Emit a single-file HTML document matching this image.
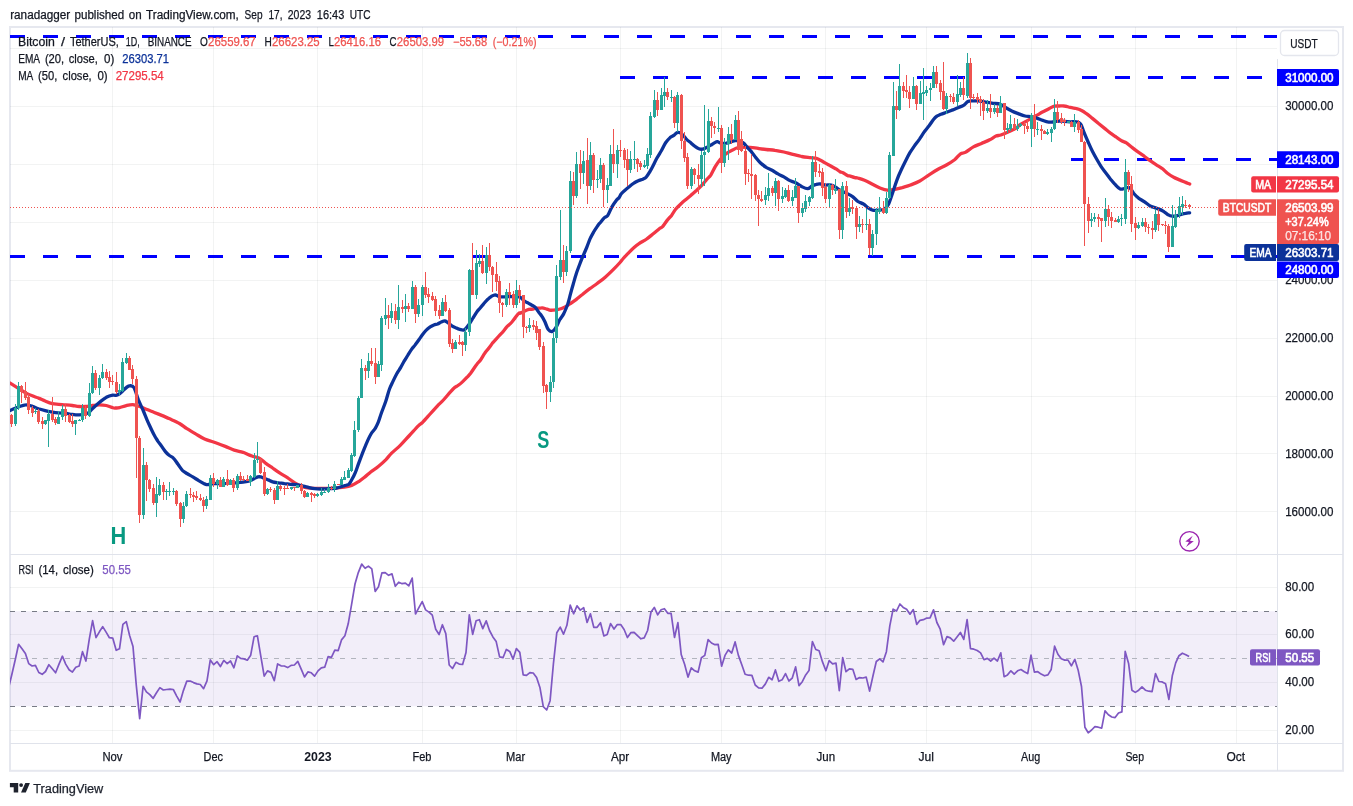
<!DOCTYPE html>
<html><head><meta charset="utf-8"><title>BTCUSDT chart</title><style>html,body{margin:0;padding:0;background:#fff}svg{display:block}</style></head><body>
<svg width="1353" height="806" viewBox="0 0 1353 806" font-family='"Liberation Sans", Arial, sans-serif'>
<rect width="1353" height="806" fill="#fff"/>
<text x="10.2" y="19.0" font-size="12" fill="#131722" font-weight="normal" stroke="#131722" stroke-width="0.25" textLength="60.0" lengthAdjust="spacingAndGlyphs">ranadagger</text>
<text x="74.5" y="19.0" font-size="12" fill="#131722" font-weight="normal" stroke="#131722" stroke-width="0.25" textLength="49.7" lengthAdjust="spacingAndGlyphs">published</text>
<text x="128.8" y="19.0" font-size="12" fill="#131722" font-weight="normal" stroke="#131722" stroke-width="0.25" textLength="12.9" lengthAdjust="spacingAndGlyphs">on</text>
<text x="146.0" y="19.0" font-size="12" fill="#131722" font-weight="normal" stroke="#131722" stroke-width="0.25" textLength="92.9" lengthAdjust="spacingAndGlyphs">TradingView.com,</text>
<text x="244.6" y="19.0" font-size="12" fill="#131722" font-weight="normal" stroke="#131722" stroke-width="0.25" textLength="17.9" lengthAdjust="spacingAndGlyphs">Sep</text>
<text x="268.5" y="19.0" font-size="12" fill="#131722" font-weight="normal" stroke="#131722" stroke-width="0.25" textLength="14.0" lengthAdjust="spacingAndGlyphs">17,</text>
<text x="287.8" y="19.0" font-size="12" fill="#131722" font-weight="normal" stroke="#131722" stroke-width="0.25" textLength="23.3" lengthAdjust="spacingAndGlyphs">2023</text>
<text x="316.8" y="19.0" font-size="12" fill="#131722" font-weight="normal" stroke="#131722" stroke-width="0.25" textLength="27.5" lengthAdjust="spacingAndGlyphs">16:43</text>
<text x="349.7" y="19.0" font-size="12" fill="#131722" font-weight="normal" stroke="#131722" stroke-width="0.25" textLength="20.8" lengthAdjust="spacingAndGlyphs">UTC</text>
<defs><clipPath id="cm"><rect x="10" y="27" width="1267" height="527"/></clipPath><clipPath id="cr"><rect x="10" y="555" width="1267" height="188"/></clipPath></defs>
<rect x="10" y="27" width="1333" height="743.8" fill="none" stroke="#e6e8ef" stroke-width="2"/>
<path d="M112.5 27V743 M213.5 27V743 M317.5 27V743 M422.5 27V743 M516.5 27V743 M620.5 27V743 M721.5 27V743 M825.5 27V743 M926.5 27V743 M1031.5 27V743 M1135.5 27V743 M1236.5 27V743" stroke="#2a2e39" stroke-opacity="0.06" stroke-width="1" fill="none"/>
<path d="M10 511.5H1277 M10 453.5H1277 M10 396.5H1277 M10 338.5H1277 M10 280.5H1277 M10 222.5H1277 M10 164.5H1277 M10 106.5H1277 M10 48.5H1277 M10 730.5H1277 M10 682.5H1277 M10 634.5H1277 M10 587.5H1277" stroke="#2a2e39" stroke-opacity="0.06" stroke-width="1" fill="none"/>
<rect x="10" y="611.2" width="1267" height="95.1" fill="#7e57c2" fill-opacity="0.1"/>
<path d="M10 611.5H1277" stroke="#787b86" stroke-width="1" stroke-dasharray="5 6" fill="none"/>
<path d="M10 706.5H1277" stroke="#787b86" stroke-width="1" stroke-dasharray="5 6" fill="none"/>
<path d="M10 658.5H1277" stroke="#b2b5be" stroke-width="1" stroke-dasharray="5 6" fill="none"/>
<g clip-path="url(#cm)">
<path d="M10 36.5H1277" stroke="#0000ff" stroke-width="3" stroke-dasharray="15 18" fill="none"/>
<path d="M620 77.4H1277" stroke="#0000ff" stroke-width="3" stroke-dasharray="15 18" fill="none"/>
<path d="M1071 159.6H1277" stroke="#0000ff" stroke-width="3" stroke-dasharray="15 18" fill="none"/>
<path d="M10 256.4H1277" stroke="#0000ff" stroke-width="3" stroke-dasharray="15 18" fill="none"/>
<path d="M6.0 380.7C7.0 381.3 9.6 382.9 11.7 384.2C13.8 385.5 16.1 386.9 18.4 388.4C20.7 389.8 23.3 391.6 25.6 392.9C27.9 394.1 30.1 395.0 32.3 395.8C34.4 396.7 36.4 397.2 38.5 398.1C40.6 398.9 42.9 400.1 45.2 401.0C47.5 402.0 50.2 403.2 52.4 403.7C54.6 404.3 56.5 404.1 58.6 404.3C60.8 404.5 63.0 404.6 65.3 404.8C67.6 405.0 70.0 405.2 72.3 405.5C74.6 405.8 77.0 406.4 79.2 406.5C81.4 406.7 83.2 406.7 85.4 406.5C87.6 406.4 90.3 405.8 92.6 405.5C94.9 405.2 97.0 404.8 99.3 404.8C101.6 404.8 104.1 405.0 106.3 405.5C108.5 406.0 111.1 407.3 112.7 407.7C114.3 408.2 114.8 408.0 115.9 408.0C117.0 408.0 117.7 408.1 119.5 407.7C121.2 407.3 124.1 406.1 126.3 405.6C128.6 405.1 130.6 404.6 132.8 404.7C135.0 404.9 137.2 405.7 139.6 406.5C142.0 407.3 144.6 408.5 147.0 409.5C149.4 410.5 151.9 411.4 154.3 412.4C156.8 413.4 159.2 414.4 161.7 415.4C164.2 416.4 166.1 417.3 169.1 418.6C172.1 420.0 176.5 421.8 179.5 423.5C182.5 425.2 184.2 427.0 186.9 428.7C189.6 430.4 192.8 432.1 195.7 433.9C198.6 435.6 201.6 437.7 204.6 439.0C207.6 440.4 210.1 440.8 213.5 442.0C216.9 443.2 221.9 445.1 225.3 446.4C228.8 447.8 231.2 449.1 234.2 450.1C237.1 451.1 240.1 451.4 243.0 452.3C245.9 453.3 249.2 455.1 251.9 456.0C254.6 457.0 257.1 457.1 259.3 458.3C261.5 459.4 263.0 461.2 265.2 462.9C267.4 464.5 270.1 466.3 272.6 468.0C275.1 469.8 277.5 471.6 280.0 473.2C282.5 474.8 284.9 476.0 287.4 477.6C289.9 479.3 292.3 481.3 294.8 482.8C297.3 484.3 300.0 485.7 302.2 486.5C304.4 487.4 305.6 487.6 307.8 487.9C309.9 488.2 311.2 488.3 314.8 488.4C318.4 488.5 324.7 488.6 329.6 488.4C334.5 488.2 340.6 487.7 344.3 487.2C348.0 486.7 349.2 486.4 351.7 485.4C354.2 484.5 356.9 482.7 359.1 481.3C361.3 479.9 363.0 478.5 365.0 476.9C367.0 475.3 368.8 473.4 371.0 471.7C373.2 470.0 375.9 468.5 378.3 466.5C380.8 464.5 383.5 462.1 385.7 459.9C387.9 457.6 389.1 455.7 391.6 453.2C394.1 450.8 397.5 448.0 400.5 445.1C403.5 442.1 406.4 438.7 409.4 435.5C412.4 432.3 416.1 428.1 418.3 425.9C420.5 423.7 420.7 424.1 422.7 422.2C424.7 420.2 427.6 416.8 430.1 414.0C432.6 411.3 435.3 408.3 437.5 405.9C439.7 403.6 440.8 402.8 443.4 400.0C446.0 397.2 450.6 391.4 453.1 389.0C455.6 386.5 456.7 386.5 458.3 385.3C459.9 384.1 461.2 383.0 462.7 381.6C464.2 380.2 465.8 378.6 467.1 377.2C468.5 375.7 469.2 375.1 470.8 373.0C472.4 370.8 475.1 366.6 476.7 364.5C478.3 362.3 479.0 362.1 480.4 360.2C481.8 358.3 483.4 355.1 484.9 353.0C486.3 350.9 488.0 349.3 489.3 347.6C490.6 345.9 491.4 344.6 492.9 342.6C494.5 340.7 497.3 337.8 498.9 336.0C500.5 334.2 501.2 333.6 502.6 332.1C504.0 330.5 505.5 328.2 507.0 326.6C508.5 325.0 510.2 323.9 511.5 322.5C512.9 321.0 513.9 319.4 515.1 317.9C516.3 316.3 517.9 313.9 518.8 313.2C519.7 312.4 519.4 313.5 520.3 313.2C521.2 312.8 522.9 311.9 524.3 311.3C525.7 310.6 527.2 309.8 528.7 309.4C530.1 309.1 531.8 309.4 532.9 309.2C533.9 309.0 533.8 308.3 535.0 308.1C536.3 308.0 538.9 308.2 540.1 308.2C541.3 308.2 541.1 307.8 542.2 307.9C543.4 308.1 545.8 308.8 547.0 309.1C548.2 309.5 548.6 309.9 549.6 310.1C550.6 310.3 551.5 310.3 552.9 310.2C554.3 310.1 556.3 310.0 558.2 309.5C560.2 309.0 562.6 308.2 564.6 307.2C566.6 306.3 568.6 304.9 570.5 303.5C572.5 302.2 574.5 300.9 576.4 299.4C578.4 297.8 580.1 296.2 582.4 294.5C584.6 292.7 587.3 290.5 589.8 288.7C592.2 286.9 594.6 285.4 597.1 283.5C599.7 281.6 602.7 279.5 605.2 277.2C607.8 275.0 610.2 272.7 612.7 270.2C615.1 267.8 618.4 264.3 620.0 262.5C621.7 260.6 621.5 260.4 622.8 259.0C624.0 257.6 625.8 255.7 627.5 253.9C629.3 252.1 631.5 249.7 633.5 248.0C635.4 246.2 637.3 244.8 639.4 243.4C641.5 242.0 643.8 241.0 646.0 239.5C648.2 238.0 650.4 236.1 652.6 234.3C654.9 232.5 657.7 230.1 659.3 228.8C661.0 227.5 661.4 228.0 662.7 226.5C664.1 225.0 666.0 221.7 667.5 219.9C668.9 218.0 670.2 217.2 671.6 215.4C673.0 213.6 674.0 211.2 675.6 209.2C677.2 207.2 680.0 204.7 681.5 203.3C683.0 201.8 683.4 201.6 684.9 200.3C686.4 199.0 688.8 197.1 690.8 195.4C692.8 193.8 694.7 192.1 696.7 190.3C698.7 188.4 700.9 186.2 702.6 184.3C704.3 182.5 705.6 180.7 707.0 179.2C708.4 177.6 709.4 177.1 710.8 175.1C712.1 173.0 713.7 169.4 715.1 166.9C716.6 164.5 718.0 162.3 719.6 160.3C721.2 158.2 723.1 156.2 724.8 154.7C726.5 153.2 728.5 152.2 730.0 151.3C731.4 150.5 732.5 150.0 733.6 149.5C734.7 148.9 735.6 148.3 736.6 148.0C737.6 147.7 738.6 147.8 739.6 147.7C740.6 147.6 740.8 147.4 742.5 147.3C744.2 147.2 747.2 147.1 749.9 147.3C752.6 147.5 756.1 148.1 758.8 148.5C761.5 148.9 763.5 149.2 766.2 149.5C768.9 149.8 772.0 149.8 775.0 150.3C778.0 150.7 780.9 151.3 783.9 152.0C786.9 152.7 789.8 153.7 792.8 154.4C795.8 155.1 798.6 155.9 801.6 156.5C804.6 157.0 808.0 157.3 810.5 157.6C813.0 158.0 814.4 157.8 816.4 158.4C818.4 159.0 820.3 160.3 822.3 161.3C824.3 162.4 826.1 163.5 828.3 164.7C830.5 166.0 833.6 167.6 835.6 168.7C837.6 169.9 838.8 171.0 840.0 171.7C841.2 172.4 841.8 172.1 843.0 172.7C844.2 173.3 846.2 174.8 847.4 175.4C848.6 176.0 849.2 175.8 850.4 176.1C851.6 176.5 853.6 177.3 854.8 177.6C856.0 177.9 856.2 177.6 857.8 178.0C859.4 178.5 862.0 179.2 864.5 180.2C866.9 181.2 870.0 183.0 872.5 184.3C875.1 185.6 877.5 187.0 880.0 188.0C882.4 188.9 884.9 189.9 887.3 190.2C889.8 190.4 892.3 189.9 894.8 189.4C897.2 189.0 899.5 188.3 902.2 187.6C904.8 186.8 907.6 186.1 910.5 185.0C913.4 183.9 916.8 182.7 919.8 181.0C922.8 179.4 925.7 177.0 928.7 175.1C931.7 173.2 934.7 171.2 937.6 169.5C940.5 167.8 943.6 166.7 946.4 165.0C949.2 163.4 952.2 161.5 954.6 159.7C956.9 157.8 958.7 155.0 960.5 153.8C962.3 152.6 963.1 153.6 965.3 152.4C967.4 151.3 970.7 148.4 973.4 146.9C976.1 145.4 978.8 144.6 981.5 143.4C984.3 142.2 987.3 141.1 989.7 139.8C992.1 138.6 994.2 136.9 996.0 136.1C997.8 135.3 998.7 135.7 1000.8 135.0C1002.8 134.3 1006.0 132.9 1008.1 131.9C1010.3 131.0 1012.0 130.4 1013.7 129.4C1015.4 128.5 1017.5 127.0 1018.5 126.2C1019.5 125.4 1018.8 125.5 1020.0 124.7C1021.2 124.0 1023.5 122.9 1025.4 121.8C1027.4 120.6 1029.6 119.2 1031.7 118.1C1033.7 116.9 1035.6 116.0 1037.6 114.9C1039.5 113.8 1041.5 112.6 1043.5 111.6C1045.5 110.5 1047.6 109.3 1049.4 108.4C1051.2 107.5 1052.9 106.6 1054.5 106.2C1056.2 105.8 1057.6 106.1 1059.2 106.0C1060.8 106.0 1062.5 105.7 1064.3 106.0C1066.1 106.2 1068.3 107.0 1070.3 107.4C1072.3 107.9 1074.5 108.1 1076.2 108.5C1077.9 108.9 1078.9 109.1 1080.6 110.0C1082.3 110.8 1084.5 112.2 1086.5 113.7C1088.5 115.1 1090.4 116.8 1092.4 118.4C1094.4 120.0 1096.3 121.6 1098.3 123.3C1100.3 124.9 1102.3 126.5 1104.3 128.1C1106.3 129.7 1108.2 131.4 1110.2 132.9C1112.2 134.3 1114.1 135.7 1116.1 137.0C1118.1 138.4 1120.3 140.0 1122.0 141.0C1123.7 142.0 1124.7 141.8 1126.4 142.9C1128.1 144.0 1130.3 146.1 1132.3 147.6C1134.3 149.2 1136.3 150.7 1138.3 152.1C1140.3 153.5 1142.2 154.8 1144.2 156.2C1146.2 157.7 1148.1 159.3 1150.1 160.7C1152.1 162.1 1154.0 163.4 1156.0 164.6C1158.0 165.9 1159.9 166.9 1161.9 168.3C1163.9 169.8 1165.8 172.0 1167.8 173.5C1169.8 175.0 1171.7 176.2 1173.7 177.2C1175.7 178.3 1177.6 179.0 1179.6 179.9C1181.6 180.7 1183.9 181.7 1185.6 182.4C1187.3 183.1 1189.0 183.7 1189.7 184.0" stroke="#f23645" stroke-width="3.3" fill="none" stroke-linecap="round" stroke-linejoin="round"/>
<path d="M6.0 412.0C7.0 411.6 9.6 410.5 11.7 409.7C13.8 408.8 16.1 407.8 18.4 407.0C20.7 406.2 23.3 404.9 25.6 404.8C27.9 404.6 30.1 405.6 32.3 406.2C34.4 406.9 36.4 408.0 38.5 408.8C40.6 409.5 42.9 410.1 45.2 410.7C47.5 411.3 50.2 411.8 52.4 412.2C54.6 412.6 56.5 412.8 58.6 412.9C60.8 413.1 63.0 413.0 65.3 413.2C67.6 413.5 70.0 414.2 72.3 414.4C74.6 414.7 77.0 415.0 79.2 414.9C81.4 414.8 83.8 414.4 85.4 414.0C87.1 413.5 87.9 413.1 89.1 412.2C90.3 411.3 90.9 410.1 92.6 408.5C94.3 406.9 97.0 404.4 99.3 402.5C101.6 400.7 104.1 398.6 106.3 397.3C108.5 396.1 111.1 395.4 112.7 395.1C114.3 394.8 114.8 395.7 115.9 395.4C117.0 395.2 118.3 394.5 119.5 393.8C120.6 393.0 121.6 392.0 122.7 391.0C123.8 390.0 125.2 388.5 126.3 387.6C127.5 386.8 128.2 385.8 129.5 385.8C130.8 385.8 132.5 385.2 133.9 387.5C135.4 389.9 136.9 396.0 138.4 399.9C140.0 403.8 142.0 407.6 143.4 411.0C144.8 414.3 145.8 417.0 147.0 419.8C148.2 422.7 149.5 425.4 150.7 428.0C151.9 430.5 153.1 433.1 154.3 435.3C155.5 437.6 156.8 439.4 158.0 441.3C159.2 443.1 160.5 444.7 161.7 446.4C162.9 448.2 164.2 450.1 165.4 451.6C166.6 453.1 167.7 454.2 169.1 455.3C170.5 456.4 172.1 456.7 173.6 458.3C175.1 459.8 176.5 462.3 178.0 464.3C179.5 466.3 180.9 468.7 182.4 470.3C183.9 471.8 185.2 472.4 186.9 473.5C188.6 474.6 190.8 475.7 192.8 476.9C194.8 478.1 196.7 479.4 198.7 480.6C200.7 481.8 203.1 483.2 204.6 483.9C206.1 484.5 206.1 484.8 207.6 484.7C209.1 484.7 211.3 483.8 213.5 483.6C215.7 483.4 218.4 483.6 220.9 483.6C223.4 483.5 225.9 483.4 228.3 483.3C230.8 483.1 233.2 483.0 235.6 482.8C238.0 482.6 240.5 482.5 243.0 482.1C245.5 481.7 248.5 481.2 250.4 480.6C252.3 480.0 253.2 479.0 254.4 478.4C255.6 477.8 256.7 477.2 257.8 476.9C258.9 476.7 259.7 476.7 260.8 476.9C261.9 477.2 263.3 477.9 264.5 478.4C265.7 478.9 266.8 479.3 268.2 479.9C269.6 480.4 270.9 481.3 272.6 481.8C274.3 482.3 276.5 482.5 278.5 482.8C280.5 483.1 282.4 483.3 284.4 483.6C286.4 483.8 288.3 484.1 290.3 484.3C292.3 484.5 294.3 484.5 296.3 484.7C298.3 485.0 300.3 485.4 302.2 485.8C304.1 486.2 305.6 486.8 307.8 487.2C309.9 487.7 312.4 488.4 314.8 488.7C317.2 489.0 319.7 489.0 322.2 489.0C324.7 489.0 327.1 488.9 329.6 488.7C332.1 488.5 334.6 488.4 337.0 488.0C339.4 487.5 342.3 486.4 344.3 485.7C346.3 485.1 347.6 485.2 348.8 484.3C350.0 483.3 350.6 481.8 351.7 479.8C352.8 477.9 354.2 475.4 355.4 472.4C356.6 469.5 357.7 465.8 359.1 462.1C360.5 458.4 362.1 454.0 363.6 450.3C365.1 446.6 366.8 442.6 368.0 439.9C369.2 437.2 369.8 436.0 371.0 434.0C372.2 432.0 374.2 430.1 375.4 428.1C376.6 426.1 377.3 424.6 378.3 422.2C379.3 419.7 380.1 416.8 381.3 413.3C382.5 409.9 384.3 405.5 385.7 401.5C387.1 397.4 388.2 392.4 389.5 389.0C390.8 385.6 392.0 383.5 393.2 380.9C394.4 378.3 395.7 375.7 396.9 373.5C398.1 371.3 399.4 369.7 400.6 367.6C401.8 365.5 403.1 363.0 404.3 360.9C405.5 358.8 406.8 357.0 408.0 355.0C409.2 353.0 410.5 350.8 411.7 349.1C412.9 347.4 414.2 346.3 415.4 344.6C416.6 343.0 417.9 341.2 419.1 339.5C420.3 337.8 421.6 335.9 422.8 334.3C424.0 332.7 425.3 331.1 426.5 329.9C427.7 328.6 429.0 327.7 430.2 326.9C431.4 326.1 432.7 325.5 433.9 325.0C435.1 324.5 436.4 324.4 437.6 324.0C438.8 323.5 440.1 322.5 441.3 322.0C442.5 321.5 443.8 320.8 445.0 321.0C446.2 321.2 447.4 322.4 448.6 323.2C449.8 324.1 451.1 325.4 452.3 326.2C453.5 327.0 454.8 327.4 456.0 327.9C457.2 328.5 458.3 329.1 459.7 329.4C461.1 329.7 462.9 330.6 464.5 329.7C466.1 328.8 467.9 325.9 469.3 324.0C470.7 322.0 471.8 320.0 473.0 318.0C474.2 316.1 475.5 313.9 476.7 312.1C477.9 310.4 479.2 309.2 480.4 307.7C481.6 306.2 482.9 304.7 484.1 303.3C485.3 301.9 486.6 300.4 487.8 299.3C489.0 298.1 490.3 297.1 491.5 296.3C492.7 295.6 494.0 294.8 495.2 294.8C496.4 294.9 497.7 296.3 498.9 296.6C500.1 297.0 500.8 296.9 502.6 296.9C504.5 296.9 507.5 296.7 510.0 296.6C512.5 296.6 515.6 296.5 517.4 296.6C519.2 296.7 519.3 296.7 520.5 297.5C521.8 298.2 523.5 300.4 524.8 301.3C526.1 302.3 527.0 302.4 528.3 303.1C529.7 303.9 531.7 305.0 532.9 305.7C534.1 306.4 534.4 306.2 535.3 307.3C536.3 308.4 537.8 310.9 538.8 312.3C539.8 313.8 540.5 314.2 541.5 315.8C542.6 317.3 543.8 319.4 544.9 321.7C546.0 324.0 547.0 327.9 548.3 329.6C549.5 331.2 551.0 331.9 552.4 331.4C553.8 330.9 555.3 328.5 556.5 326.6C557.7 324.7 558.5 322.0 559.7 319.8C560.9 317.7 562.4 316.2 563.8 313.6C565.1 310.9 566.7 307.1 567.8 304.0C568.9 300.8 569.4 297.9 570.3 294.6C571.2 291.3 572.2 287.7 573.2 284.3C574.2 280.8 574.9 277.8 576.2 273.9C577.5 270.0 579.8 264.1 581.0 260.9C582.2 257.7 582.5 257.1 583.5 254.9C584.5 252.7 585.6 250.1 586.7 247.5C587.8 244.9 588.8 241.7 589.9 239.1C591.1 236.5 592.5 234.1 593.8 231.8C595.1 229.5 596.8 227.1 597.9 225.5C599.0 223.9 599.6 223.4 600.6 222.2C601.6 220.9 603.0 219.1 604.2 217.9C605.4 216.8 606.6 217.0 607.9 215.2C609.1 213.3 610.4 209.6 611.8 207.1C613.3 204.6 615.4 201.7 616.6 200.1C617.8 198.5 618.2 198.8 619.0 197.7C619.7 196.7 620.3 195.1 621.3 193.8C622.3 192.6 623.6 191.4 625.0 190.2C626.4 189.0 628.0 187.7 629.5 186.5C630.9 185.3 632.4 184.1 633.9 183.2C635.3 182.2 636.8 181.5 638.3 180.8C639.8 180.1 641.5 179.8 642.8 179.2C644.0 178.6 644.9 178.4 646.0 177.3C647.2 176.1 648.4 174.1 649.4 172.4C650.4 170.7 651.1 169.6 652.3 167.2C653.5 164.9 655.3 161.1 656.8 158.3C658.3 155.6 659.7 153.5 661.2 151.0C662.7 148.4 664.1 145.0 665.6 142.8C667.1 140.6 668.7 138.9 670.1 137.6C671.5 136.4 672.6 136.3 673.8 135.4C675.0 134.6 676.1 132.7 677.5 132.5C678.9 132.2 680.4 132.8 681.9 134.0C683.4 135.1 684.8 137.6 686.3 139.1C687.8 140.6 689.3 141.6 690.8 142.8C692.3 144.1 693.9 145.5 695.2 146.5C696.6 147.5 697.7 148.3 698.9 148.7C700.1 149.2 701.2 149.4 702.6 149.2C704.0 148.9 705.6 147.9 707.0 147.3C708.4 146.6 709.5 146.0 710.8 145.2C712.0 144.4 713.7 143.2 714.8 142.6C715.9 142.0 716.4 141.6 717.4 141.7C718.4 141.8 719.6 143.0 721.0 143.2C722.5 143.5 724.6 143.4 726.3 143.2C728.0 142.9 730.0 142.2 731.5 141.7C732.9 141.3 733.9 140.8 735.1 140.7C736.3 140.5 737.5 140.4 738.9 140.8C740.2 141.1 741.9 141.8 743.3 142.9C744.7 143.9 745.6 145.5 747.0 147.0C748.4 148.5 749.9 150.0 751.4 151.7C752.9 153.5 754.3 155.8 755.8 157.6C757.3 159.5 758.6 161.2 760.3 162.8C762.0 164.4 764.2 166.0 766.2 167.3C768.2 168.5 770.1 169.1 772.1 170.2C774.1 171.3 776.0 172.8 778.0 173.9C780.0 175.0 781.9 175.8 783.9 176.9C785.9 178.0 787.8 179.6 789.8 180.6C791.8 181.5 793.7 181.8 795.7 182.8C797.7 183.8 799.6 185.5 801.6 186.5C803.6 187.5 805.9 188.8 807.6 188.7C809.3 188.6 810.5 186.8 812.0 186.0C813.5 185.3 814.9 184.6 816.4 184.3C817.9 183.9 819.4 183.8 820.9 184.0C822.4 184.1 823.6 184.8 825.3 185.0C827.0 185.2 829.5 184.6 831.2 185.0C832.9 185.4 834.1 186.4 835.6 187.2C837.1 188.1 838.4 189.2 840.1 190.2C841.8 191.2 844.0 192.1 846.0 193.1C848.0 194.1 849.9 194.7 851.9 196.1C853.9 197.4 855.8 199.9 857.8 201.3C859.8 202.6 862.0 203.1 863.7 204.2C865.4 205.3 866.7 206.9 868.2 207.9C869.7 208.9 870.9 209.8 872.6 210.1C874.3 210.5 876.5 210.3 878.5 210.1C880.5 210.0 882.7 210.1 884.4 209.1C886.1 208.1 887.1 206.9 888.5 204.2C889.8 201.6 891.1 197.2 892.5 193.1C893.9 189.1 895.5 183.8 897.0 179.8C898.4 175.9 899.9 172.7 901.4 169.5C902.9 166.3 904.4 163.3 905.8 160.5C907.2 157.7 908.5 155.1 909.9 152.7C911.4 150.3 912.7 148.4 914.3 146.1C915.9 143.9 917.7 141.6 919.5 139.1C921.2 136.6 923.0 133.6 924.7 131.3C926.3 129.1 927.6 127.8 929.1 125.8C930.6 123.8 932.2 121.1 933.5 119.5C934.8 117.9 935.7 117.0 936.9 116.1C938.1 115.3 939.4 115.0 940.9 114.3C942.4 113.7 944.3 113.1 946.0 112.5C947.8 111.9 949.8 111.1 951.2 110.5C952.7 109.9 953.4 109.7 954.6 109.2C955.8 108.7 957.1 108.2 958.6 107.5C960.2 106.8 962.3 106.1 963.9 105.1C965.4 104.1 966.5 102.3 967.9 101.6C969.3 100.9 970.6 101.0 972.3 100.9C974.0 100.8 976.1 100.7 978.3 100.9C980.5 101.1 983.1 101.7 985.6 102.1C988.1 102.5 990.5 102.9 993.0 103.3C995.5 103.6 998.2 103.5 1000.4 104.3C1002.6 105.1 1004.3 106.8 1006.3 108.0C1008.3 109.2 1010.3 110.3 1012.3 111.2C1014.3 112.2 1016.1 112.8 1018.2 113.6C1020.3 114.4 1022.9 115.5 1025.0 116.0C1027.1 116.5 1028.9 116.2 1030.9 116.6C1032.9 116.9 1034.8 117.4 1036.8 118.1C1038.8 118.7 1040.8 119.8 1042.8 120.4C1044.7 121.1 1046.8 121.9 1048.7 122.1C1050.5 122.4 1052.0 122.1 1053.8 121.9C1055.6 121.7 1057.5 121.1 1059.2 121.0C1061.0 120.9 1062.5 121.2 1064.3 121.3C1066.1 121.5 1068.3 121.7 1070.3 121.8C1072.3 121.9 1074.5 121.4 1076.2 121.8C1077.9 122.2 1079.4 122.4 1080.6 124.0C1081.8 125.6 1082.4 128.4 1083.6 131.4C1084.8 134.3 1086.5 138.4 1088.0 141.7C1089.5 145.1 1090.9 148.4 1092.4 151.3C1093.9 154.3 1095.4 156.9 1096.9 159.5C1098.4 162.1 1099.8 164.6 1101.3 166.9C1102.8 169.1 1104.2 170.8 1105.7 172.8C1107.2 174.7 1108.7 176.8 1110.2 178.7C1111.7 180.5 1112.9 182.1 1114.6 183.9C1116.3 185.6 1118.4 188.3 1120.2 189.0C1121.9 189.8 1123.5 188.5 1125.0 188.3C1126.5 188.1 1127.9 186.7 1129.4 187.6C1130.9 188.4 1132.3 191.7 1133.8 193.5C1135.3 195.2 1136.6 196.6 1138.3 197.9C1140.0 199.3 1142.2 200.2 1144.2 201.6C1146.2 203.0 1148.4 205.0 1150.1 206.0C1151.8 207.0 1153.1 207.1 1154.6 207.6C1156.1 208.2 1157.5 208.5 1159.0 209.1C1160.5 209.7 1162.0 210.4 1163.5 211.3C1165.0 212.3 1166.4 213.9 1167.9 214.7C1169.4 215.6 1170.8 216.1 1172.3 216.2C1173.8 216.4 1175.3 216.1 1176.8 215.8C1178.3 215.5 1179.7 214.7 1181.2 214.3C1182.7 213.9 1184.2 213.5 1185.6 213.3C1187.0 213.0 1188.9 212.9 1189.6 212.8" stroke="#0c3299" stroke-width="3.3" fill="none" stroke-linecap="round" stroke-linejoin="round"/>
<path d="M15 404h1v22h-1zM18 382h1v28h-1zM35 408h1v6h-1zM45 420h1v5h-1zM48 410h1v37h-1zM58 411h1v13h-1zM62 405h1v15h-1zM75 420h1v15h-1zM79 419h1v2h-1zM82 404h1v18h-1zM89 383h1v34h-1zM92 366h1v28h-1zM99 375h1v20h-1zM102 364h1v15h-1zM119 384h1v11h-1zM122 358h1v34h-1zM126 353h1v11h-1zM143 448h1v71h-1zM156 477h1v40h-1zM159 479h1v17h-1zM166 489h1v11h-1zM169 482h1v14h-1zM173 488h1v7h-1zM183 502h1v21h-1zM186 491h1v16h-1zM206 496h1v13h-1zM210 475h1v25h-1zM217 479h1v10h-1zM223 477h1v10h-1zM230 479h1v6h-1zM237 474h1v16h-1zM250 475h1v11h-1zM254 453h1v25h-1zM257 442h1v21h-1zM267 488h1v7h-1zM277 481h1v19h-1zM291 487h1v3h-1zM297 485h1v3h-1zM307 492h1v5h-1zM317 493h1v4h-1zM321 488h1v8h-1zM324 489h1v4h-1zM328 484h1v9h-1zM334 481h1v11h-1zM341 477h1v8h-1zM344 471h1v9h-1zM348 468h1v10h-1zM351 453h1v19h-1zM354 421h1v36h-1zM358 396h1v36h-1zM361 359h1v39h-1zM368 353h1v25h-1zM378 361h1v16h-1zM381 316h1v55h-1zM385 298h1v27h-1zM391 303h1v20h-1zM398 285h1v44h-1zM405 294h1v28h-1zM412 281h1v28h-1zM418 299h1v18h-1zM422 285h1v31h-1zM442 298h1v18h-1zM455 340h1v9h-1zM465 328h1v23h-1zM469 269h1v67h-1zM476 250h1v49h-1zM479 254h1v13h-1zM486 247h1v37h-1zM506 289h1v18h-1zM516 280h1v28h-1zM529 318h1v14h-1zM550 376h1v26h-1zM553 333h1v55h-1zM556 265h1v78h-1zM560 210h1v70h-1zM566 246h1v30h-1zM570 171h1v82h-1zM576 152h1v46h-1zM583 151h1v33h-1zM590 142h1v48h-1zM597 170h1v18h-1zM600 158h1v25h-1zM607 178h1v25h-1zM610 145h1v41h-1zM617 145h1v33h-1zM630 151h1v22h-1zM634 141h1v28h-1zM644 160h1v8h-1zM647 148h1v21h-1zM650 112h1v46h-1zM654 90h1v28h-1zM661 88h1v22h-1zM664 77h1v30h-1zM671 90h1v12h-1zM677 92h1v40h-1zM691 167h1v22h-1zM701 151h1v36h-1zM704 105h1v81h-1zM708 109h1v44h-1zM718 107h1v25h-1zM724 138h1v29h-1zM728 127h1v33h-1zM735 115h1v25h-1zM765 187h1v18h-1zM768 173h1v28h-1zM775 178h1v28h-1zM782 187h1v16h-1zM785 188h1v10h-1zM792 190h1v16h-1zM795 178h1v20h-1zM802 203h1v14h-1zM805 195h1v17h-1zM809 196h1v10h-1zM812 156h1v43h-1zM829 183h1v24h-1zM835 179h1v15h-1zM842 182h1v57h-1zM849 198h1v18h-1zM859 216h1v16h-1zM866 209h1v21h-1zM872 230h1v26h-1zM876 208h1v37h-1zM879 197h1v17h-1zM886 192h1v22h-1zM889 152h1v47h-1zM893 82h1v74h-1zM899 64h1v47h-1zM913 77h1v22h-1zM920 81h1v23h-1zM923 68h1v52h-1zM926 86h1v10h-1zM930 83h1v18h-1zM933 66h1v22h-1zM946 93h1v21h-1zM957 75h1v31h-1zM960 82h1v15h-1zM967 53h1v45h-1zM987 100h1v13h-1zM994 104h1v10h-1zM1000 96h1v17h-1zM1007 123h1v10h-1zM1010 115h1v16h-1zM1017 119h1v12h-1zM1020 123h1v4h-1zM1031 113h1v34h-1zM1037 122h1v13h-1zM1047 129h1v6h-1zM1051 127h1v15h-1zM1054 99h1v31h-1zM1068 121h1v2h-1zM1074 114h1v18h-1zM1091 213h1v14h-1zM1094 213h1v9h-1zM1105 198h1v29h-1zM1118 216h1v7h-1zM1121 214h1v12h-1zM1125 159h1v65h-1zM1138 222h1v7h-1zM1142 218h1v9h-1zM1155 209h1v23h-1zM1172 205h1v42h-1zM1175 210h1v18h-1zM1179 197h1v21h-1zM1182 196h1v19h-1zM14 408h3v16h-3zM17 386h3v22h-3zM34 411h3v1h-3zM44 420h3v4h-3zM47 414h3v7h-3zM57 417h3v7h-3zM61 409h3v8h-3zM74 420h3v4h-3zM78 420h3v1h-3zM81 408h3v12h-3zM88 393h3v23h-3zM91 373h3v20h-3zM98 378h3v10h-3zM101 372h3v6h-3zM118 390h3v2h-3zM121 362h3v29h-3zM125 358h3v5h-3zM142 465h3v50h-3zM155 494h3v9h-3zM158 485h3v10h-3zM165 491h3v1h-3zM168 491h3v1h-3zM172 491h3v1h-3zM182 506h3v13h-3zM185 494h3v12h-3zM205 499h3v7h-3zM209 478h3v22h-3zM216 480h3v4h-3zM222 479h3v8h-3zM229 480h3v5h-3zM236 476h3v12h-3zM249 476h3v6h-3zM253 460h3v17h-3zM256 459h3v1h-3zM266 489h3v5h-3zM276 486h3v14h-3zM290 487h3v2h-3zM296 485h3v3h-3zM306 493h3v4h-3zM316 494h3v2h-3zM320 492h3v3h-3zM323 492h3v1h-3zM327 488h3v4h-3zM333 484h3v5h-3zM340 479h3v6h-3zM343 477h3v3h-3zM347 470h3v8h-3zM350 455h3v16h-3zM353 430h3v26h-3zM357 398h3v32h-3zM360 368h3v30h-3zM367 361h3v10h-3zM377 364h3v13h-3zM380 318h3v47h-3zM384 315h3v4h-3zM390 311h3v7h-3zM397 307h3v13h-3zM404 306h3v3h-3zM411 287h3v22h-3zM417 305h3v9h-3zM421 287h3v18h-3zM441 302h3v14h-3zM454 342h3v7h-3zM464 332h3v13h-3zM468 270h3v62h-3zM475 263h3v32h-3zM478 261h3v3h-3zM485 255h3v18h-3zM505 292h3v13h-3zM515 290h3v15h-3zM528 325h3v3h-3zM549 382h3v10h-3zM552 338h3v44h-3zM555 276h3v62h-3zM559 260h3v17h-3zM565 251h3v21h-3zM569 181h3v70h-3zM575 164h3v32h-3zM582 161h3v12h-3zM589 155h3v31h-3zM596 179h3v1h-3zM599 165h3v14h-3zM606 185h3v5h-3zM609 154h3v32h-3zM616 150h3v14h-3zM629 159h3v11h-3zM633 159h3v1h-3zM643 165h3v2h-3zM646 154h3v12h-3zM649 116h3v39h-3zM653 100h3v17h-3zM660 95h3v15h-3zM663 92h3v4h-3zM670 97h3v1h-3zM676 95h3v28h-3zM690 169h3v17h-3zM700 155h3v24h-3zM703 152h3v3h-3zM707 121h3v31h-3zM717 128h3v1h-3zM723 144h3v19h-3zM727 134h3v10h-3zM734 120h3v20h-3zM764 195h3v5h-3zM767 188h3v8h-3zM774 181h3v12h-3zM781 196h3v3h-3zM784 190h3v7h-3zM791 197h3v4h-3zM794 186h3v12h-3zM801 208h3v5h-3zM804 201h3v8h-3zM808 197h3v5h-3zM811 162h3v36h-3zM828 185h3v14h-3zM834 189h3v2h-3zM841 186h3v44h-3zM848 208h3v4h-3zM858 224h3v3h-3zM865 224h3v1h-3zM871 234h3v14h-3zM875 210h3v24h-3zM878 209h3v3h-3zM885 198h3v15h-3zM888 155h3v43h-3zM892 106h3v50h-3zM898 86h3v24h-3zM912 86h3v13h-3zM919 93h3v11h-3zM922 92h3v2h-3zM925 90h3v3h-3zM929 88h3v2h-3zM932 72h3v16h-3zM945 96h3v13h-3zM956 94h3v8h-3zM959 88h3v7h-3zM966 63h3v33h-3zM986 108h3v3h-3zM993 108h3v4h-3zM999 103h3v10h-3zM1006 128h3v2h-3zM1009 124h3v5h-3zM1016 126h3v3h-3zM1019 124h3v2h-3zM1030 115h3v14h-3zM1036 129h3v1h-3zM1046 132h3v2h-3zM1050 129h3v4h-3zM1053 112h3v17h-3zM1067 121h3v2h-3zM1073 122h3v5h-3zM1090 219h3v2h-3zM1093 217h3v2h-3zM1104 209h3v12h-3zM1117 219h3v3h-3zM1120 218h3v1h-3zM1124 172h3v47h-3zM1137 225h3v3h-3zM1141 222h3v4h-3zM1154 214h3v16h-3zM1171 226h3v21h-3zM1174 215h3v12h-3zM1178 206h3v9h-3zM1181 204h3v3h-3z" fill="#26a69a"/>
<path d="M11 414h1v13h-1zM21 385h1v18h-1zM25 382h1v18h-1zM28 394h1v20h-1zM32 406h1v11h-1zM38 409h1v15h-1zM42 417h1v12h-1zM52 397h1v25h-1zM55 417h1v8h-1zM65 404h1v18h-1zM69 414h1v9h-1zM72 414h1v13h-1zM85 406h1v13h-1zM95 370h1v20h-1zM106 369h1v11h-1zM109 371h1v17h-1zM112 375h1v10h-1zM116 372h1v22h-1zM129 356h1v14h-1zM132 365h1v19h-1zM136 376h1v102h-1zM139 436h1v87h-1zM146 462h1v39h-1zM149 479h1v13h-1zM153 484h1v21h-1zM163 482h1v18h-1zM176 490h1v16h-1zM180 502h1v25h-1zM190 488h1v10h-1zM193 492h1v10h-1zM196 491h1v9h-1zM200 494h1v7h-1zM203 497h1v15h-1zM213 473h1v14h-1zM220 477h1v10h-1zM227 470h1v16h-1zM233 478h1v14h-1zM240 472h1v9h-1zM243 476h1v5h-1zM247 475h1v6h-1zM260 458h1v16h-1zM264 467h1v29h-1zM270 487h1v5h-1zM274 488h1v16h-1zM280 485h1v6h-1zM284 486h1v9h-1zM287 484h1v5h-1zM294 487h1v4h-1zM301 483h1v11h-1zM304 490h1v8h-1zM311 492h1v10h-1zM314 493h1v5h-1zM331 486h1v4h-1zM338 484h1v1h-1zM365 365h1v15h-1zM371 348h1v18h-1zM375 348h1v36h-1zM388 305h1v24h-1zM395 304h1v20h-1zM402 300h1v13h-1zM408 303h1v9h-1zM415 285h1v38h-1zM425 272h1v26h-1zM428 288h1v15h-1zM432 292h1v9h-1zM435 296h1v20h-1zM439 305h1v14h-1zM445 295h1v17h-1zM449 308h1v39h-1zM452 339h1v14h-1zM459 335h1v10h-1zM462 341h1v15h-1zM472 243h1v52h-1zM482 245h1v29h-1zM489 243h1v28h-1zM492 266h1v26h-1zM496 262h1v29h-1zM499 276h1v37h-1zM502 302h1v15h-1zM509 283h1v22h-1zM513 291h1v17h-1zM519 285h1v18h-1zM523 295h1v43h-1zM526 326h1v7h-1zM533 320h1v10h-1zM536 321h1v19h-1zM539 329h1v21h-1zM543 342h1v51h-1zM546 384h1v25h-1zM563 245h1v38h-1zM573 172h1v33h-1zM580 150h1v39h-1zM587 138h1v66h-1zM593 153h1v40h-1zM603 163h1v44h-1zM613 129h1v44h-1zM620 140h1v17h-1zM624 148h1v20h-1zM627 149h1v37h-1zM637 158h1v14h-1zM640 161h1v9h-1zM657 92h1v24h-1zM667 88h1v12h-1zM674 96h1v32h-1zM681 94h1v55h-1zM684 132h1v30h-1zM687 153h1v36h-1zM694 168h1v16h-1zM698 164h1v30h-1zM711 117h1v21h-1zM714 122h1v12h-1zM721 125h1v48h-1zM731 124h1v20h-1zM738 111h1v44h-1zM741 131h1v21h-1zM745 146h1v39h-1zM748 169h1v13h-1zM751 154h1v45h-1zM755 174h1v27h-1zM758 190h1v36h-1zM761 191h1v11h-1zM772 186h1v10h-1zM778 180h1v31h-1zM788 185h1v17h-1zM798 186h1v37h-1zM815 151h1v26h-1zM819 164h1v13h-1zM822 168h1v28h-1zM825 183h1v20h-1zM832 184h1v11h-1zM839 189h1v50h-1zM846 181h1v37h-1zM852 200h1v14h-1zM856 206h1v33h-1zM862 219h1v14h-1zM869 219h1v36h-1zM883 201h1v13h-1zM896 91h1v28h-1zM903 82h1v16h-1zM906 75h1v23h-1zM909 86h1v22h-1zM916 85h1v25h-1zM936 66h1v22h-1zM940 80h1v20h-1zM943 62h1v48h-1zM950 94h1v8h-1zM953 93h1v11h-1zM963 77h1v23h-1zM970 58h1v51h-1zM973 94h1v6h-1zM977 93h1v11h-1zM980 96h1v20h-1zM983 99h1v21h-1zM990 94h1v24h-1zM997 105h1v12h-1zM1004 103h1v36h-1zM1014 118h1v13h-1zM1024 122h1v12h-1zM1027 120h1v12h-1zM1034 104h1v33h-1zM1041 125h1v15h-1zM1044 130h1v4h-1zM1057 101h1v22h-1zM1061 113h1v11h-1zM1064 118h1v8h-1zM1071 121h1v6h-1zM1078 120h1v13h-1zM1081 125h1v17h-1zM1084 141h1v105h-1zM1088 197h1v36h-1zM1098 214h1v13h-1zM1101 218h1v24h-1zM1108 205h1v21h-1zM1111 212h1v16h-1zM1115 218h1v4h-1zM1128 170h1v22h-1zM1131 176h1v56h-1zM1135 217h1v23h-1zM1145 218h1v14h-1zM1148 224h1v10h-1zM1152 221h1v18h-1zM1158 209h1v22h-1zM1162 224h1v2h-1zM1165 221h1v13h-1zM1168 224h1v28h-1zM1185 200h1v8h-1zM1189 204h1v5h-1zM10 415h3v9h-3zM20 386h3v6h-3zM24 391h3v7h-3zM27 397h3v13h-3zM31 408h3v5h-3zM37 411h3v11h-3zM41 421h3v3h-3zM51 414h3v6h-3zM54 419h3v4h-3zM64 409h3v7h-3zM68 415h3v7h-3zM71 421h3v3h-3zM84 408h3v8h-3zM94 373h3v15h-3zM105 372h3v6h-3zM108 377h3v5h-3zM111 381h3v1h-3zM115 382h3v10h-3zM128 358h3v12h-3zM131 369h3v10h-3zM135 379h3v59h-3zM138 438h3v77h-3zM145 465h3v15h-3zM148 480h3v9h-3zM152 488h3v15h-3zM162 485h3v7h-3zM175 491h3v13h-3zM179 503h3v16h-3zM189 494h3v1h-3zM192 495h3v2h-3zM195 496h3v2h-3zM199 498h3v2h-3zM202 500h3v6h-3zM212 478h3v6h-3zM219 480h3v7h-3zM226 479h3v6h-3zM232 480h3v8h-3zM239 476h3v4h-3zM242 479h3v1h-3zM246 479h3v2h-3zM259 459h3v14h-3zM263 472h3v22h-3zM269 489h3v1h-3zM273 490h3v10h-3zM279 486h3v3h-3zM283 488h3v1h-3zM286 488h3v1h-3zM293 487h3v1h-3zM300 485h3v6h-3zM303 491h3v6h-3zM310 493h3v2h-3zM313 494h3v2h-3zM330 488h3v1h-3zM337 484h3v1h-3zM364 368h3v3h-3zM370 361h3v3h-3zM374 363h3v14h-3zM387 315h3v3h-3zM394 311h3v9h-3zM401 307h3v2h-3zM407 306h3v3h-3zM414 287h3v27h-3zM424 287h3v8h-3zM427 294h3v3h-3zM431 296h3v4h-3zM434 299h3v12h-3zM438 310h3v6h-3zM444 302h3v9h-3zM448 310h3v34h-3zM451 343h3v6h-3zM458 342h3v2h-3zM461 342h3v3h-3zM471 270h3v25h-3zM481 261h3v12h-3zM488 255h3v12h-3zM491 267h3v8h-3zM495 274h3v8h-3zM498 281h3v22h-3zM501 303h3v2h-3zM508 292h3v3h-3zM512 294h3v11h-3zM518 290h3v6h-3zM522 295h3v32h-3zM525 327h3v1h-3zM532 325h3v2h-3zM535 326h3v7h-3zM538 329h3v18h-3zM542 346h3v40h-3zM545 385h3v7h-3zM562 260h3v12h-3zM572 181h3v15h-3zM579 164h3v9h-3zM586 160h3v26h-3zM592 155h3v25h-3zM602 165h3v25h-3zM612 154h3v10h-3zM619 150h3v1h-3zM623 150h3v10h-3zM626 159h3v11h-3zM636 159h3v5h-3zM639 163h3v4h-3zM656 100h3v10h-3zM666 92h3v5h-3zM673 97h3v26h-3zM680 95h3v46h-3zM683 141h3v17h-3zM686 157h3v29h-3zM693 169h3v6h-3zM697 175h3v4h-3zM710 121h3v5h-3zM713 126h3v2h-3zM720 128h3v35h-3zM730 134h3v6h-3zM737 120h3v30h-3zM740 139h3v12h-3zM744 151h3v23h-3zM747 173h3v1h-3zM750 174h3v2h-3zM754 175h3v20h-3zM757 195h3v4h-3zM760 199h3v2h-3zM771 188h3v5h-3zM777 181h3v18h-3zM787 190h3v11h-3zM797 186h3v27h-3zM814 162h3v10h-3zM818 171h3v2h-3zM821 172h3v16h-3zM824 187h3v12h-3zM831 185h3v5h-3zM838 189h3v41h-3zM845 186h3v26h-3zM851 207h3v2h-3zM855 208h3v19h-3zM861 224h3v1h-3zM868 224h3v24h-3zM882 208h3v5h-3zM895 106h3v4h-3zM902 86h3v5h-3zM905 90h3v2h-3zM908 92h3v7h-3zM915 86h3v18h-3zM935 72h3v12h-3zM939 83h3v9h-3zM942 91h3v18h-3zM949 96h3v1h-3zM952 97h3v5h-3zM962 88h3v7h-3zM969 63h3v35h-3zM972 97h3v1h-3zM976 97h3v3h-3zM979 99h3v3h-3zM982 102h3v9h-3zM989 108h3v4h-3zM996 108h3v5h-3zM1003 103h3v27h-3zM1013 124h3v5h-3zM1023 124h3v2h-3zM1026 126h3v3h-3zM1033 115h3v14h-3zM1040 129h3v2h-3zM1043 131h3v3h-3zM1056 112h3v8h-3zM1060 118h3v4h-3zM1063 120h3v2h-3zM1070 122h3v5h-3zM1077 122h3v8h-3zM1080 129h3v13h-3zM1083 142h3v62h-3zM1087 204h3v17h-3zM1097 217h3v2h-3zM1100 218h3v3h-3zM1107 209h3v8h-3zM1110 217h3v4h-3zM1114 220h3v2h-3zM1127 172h3v13h-3zM1130 184h3v40h-3zM1134 223h3v5h-3zM1144 222h3v5h-3zM1147 227h3v1h-3zM1151 228h3v2h-3zM1157 214h3v11h-3zM1161 224h3v1h-3zM1164 225h3v1h-3zM1167 226h3v21h-3zM1184 205h3v1h-3zM1188 205h3v2h-3z" fill="#ef5350"/>
<path d="M10 207.5H1218" stroke="#ef5350" stroke-width="1" stroke-dasharray="1 2" fill="none"/>
</g>
<polyline points="8.5,688.3 11.9,674.3 15.3,659.5 18.6,644.3 22.0,648.8 25.4,653.6 28.7,663.6 32.1,666.0 35.4,665.4 38.8,672.5 42.2,674.3 45.5,671.5 48.9,664.7 52.3,668.8 55.6,672.8 59.0,664.1 62.4,656.2 65.7,664.1 69.1,669.7 72.4,672.1 75.8,667.3 79.2,666.0 82.5,651.7 85.9,661.0 89.3,639.2 92.6,620.7 96.0,637.7 99.4,631.8 102.7,626.6 106.1,632.1 109.4,637.7 112.8,638.2 116.2,650.3 119.5,648.8 122.9,624.4 126.3,621.6 129.6,635.5 133.0,646.6 136.3,685.4 139.7,718.7 143.1,686.3 146.4,691.9 149.8,694.6 153.2,698.3 156.5,692.8 159.9,687.6 163.3,690.0 166.6,689.5 170.0,689.1 173.3,689.5 176.7,696.1 180.1,702.0 183.4,690.6 186.8,681.1 190.2,681.1 193.5,682.6 196.9,683.9 200.3,684.5 203.6,688.7 207.0,680.8 210.3,659.9 213.7,664.7 217.1,661.7 220.4,666.5 223.8,660.4 227.2,663.6 230.5,661.0 233.9,667.8 237.3,655.8 240.6,658.4 244.0,658.9 247.3,660.2 250.7,655.2 254.1,636.7 257.4,635.8 260.8,656.2 264.2,676.1 267.5,670.9 270.9,672.4 274.3,680.6 277.6,663.9 281.0,665.8 284.3,666.0 287.7,667.6 291.1,665.4 294.4,665.0 297.8,661.3 301.2,669.1 304.5,676.9 307.9,671.9 311.3,672.8 314.6,676.1 318.0,670.9 321.3,667.8 324.7,667.2 328.1,656.7 331.4,657.4 334.8,650.2 338.2,650.6 341.5,639.9 344.9,635.8 348.2,623.8 351.6,604.4 355.0,584.0 358.3,572.6 361.7,564.1 365.1,568.3 368.4,566.1 371.8,568.9 375.2,591.4 378.5,586.8 381.9,572.9 385.2,572.6 388.6,575.3 392.0,573.9 395.3,586.3 398.7,582.2 402.1,583.7 405.4,583.1 408.8,585.9 412.2,578.1 415.5,614.0 418.9,607.7 422.2,601.6 425.6,609.9 429.0,612.1 432.3,615.1 435.7,629.3 439.1,634.5 442.4,624.7 445.8,633.6 449.2,665.0 452.5,668.5 455.9,662.3 459.2,664.1 462.6,664.5 466.0,652.5 469.3,614.9 472.7,634.3 476.1,620.7 479.4,619.7 482.8,628.6 486.2,620.9 489.5,630.5 492.9,636.9 496.2,641.6 499.6,656.9 503.0,657.7 506.3,649.5 509.7,651.4 513.1,659.1 516.4,648.6 519.8,652.3 523.2,674.9 526.5,675.4 529.9,672.6 533.2,673.0 536.6,677.6 540.0,687.8 543.3,706.7 546.7,710.0 550.1,700.7 553.4,663.8 556.8,632.7 560.2,627.1 563.5,634.2 566.9,625.3 570.2,605.1 573.6,613.8 577.0,605.9 580.3,610.1 583.7,607.7 587.1,622.5 590.4,613.8 593.8,627.3 597.1,627.3 600.5,622.7 603.9,636.0 607.2,634.5 610.6,623.6 614.0,629.0 617.3,624.6 620.7,624.6 624.1,629.5 627.4,637.5 630.8,632.7 634.1,632.3 637.5,635.7 640.9,638.8 644.2,637.9 647.6,630.5 651.0,612.0 654.3,607.4 657.7,614.8 661.1,609.8 664.4,608.7 667.8,613.3 671.1,613.3 674.5,637.5 677.9,622.7 681.2,654.5 684.6,664.3 688.0,677.1 691.3,667.8 694.7,670.8 698.1,672.1 701.4,657.7 704.8,655.4 708.1,639.7 711.5,643.0 714.9,644.7 718.2,644.3 721.6,666.2 725.0,655.4 728.3,649.9 731.7,653.0 735.1,641.9 738.4,655.4 741.8,664.7 745.1,674.3 748.5,675.2 751.9,675.4 755.2,685.0 758.6,687.8 762.0,688.2 765.3,684.1 768.7,677.3 772.1,679.8 775.4,669.9 778.8,681.3 782.1,679.8 785.5,673.6 788.9,681.0 792.2,678.2 795.6,666.9 799.0,685.6 802.3,681.7 805.7,674.9 809.0,670.6 812.4,641.6 815.8,649.5 819.1,650.8 822.5,661.9 825.9,670.8 829.2,660.6 832.6,663.8 836.0,663.2 839.3,690.6 842.7,657.7 846.0,671.7 849.4,668.8 852.8,669.3 856.1,679.5 859.5,677.6 862.9,678.0 866.2,677.1 869.6,691.1 873.0,675.8 876.3,661.5 879.7,658.8 883.0,661.9 886.4,651.7 889.8,625.9 893.1,609.2 896.5,611.1 899.9,604.0 903.2,607.4 906.6,609.2 910.0,614.2 913.3,609.6 916.7,624.4 920.0,620.3 923.4,619.7 926.8,618.1 930.1,617.9 933.5,609.8 936.9,622.5 940.2,629.2 943.6,644.7 947.0,636.6 950.3,637.9 953.7,641.2 957.0,636.9 960.4,632.5 963.8,639.4 967.1,619.6 970.5,648.6 973.9,649.2 977.2,650.5 980.6,652.9 984.0,659.7 987.3,658.4 990.7,661.0 994.0,658.2 997.4,661.0 1000.8,652.9 1004.1,676.7 1007.5,674.9 1010.9,670.8 1014.2,674.1 1017.6,670.8 1021.0,669.5 1024.3,671.7 1027.7,673.6 1031.0,655.1 1034.4,672.1 1037.8,671.7 1041.1,674.1 1044.5,675.8 1047.9,674.9 1051.2,669.5 1054.6,646.2 1057.9,654.2 1061.3,658.8 1064.7,660.1 1068.0,660.1 1071.4,665.8 1074.8,659.3 1078.1,669.9 1081.5,686.5 1084.9,727.2 1088.2,732.8 1091.6,730.0 1094.9,726.7 1098.3,727.2 1101.7,728.1 1105.0,710.9 1108.4,714.8 1111.8,717.0 1115.1,717.6 1118.5,713.0 1121.9,711.9 1125.2,651.4 1128.6,663.4 1131.9,690.2 1135.3,692.4 1138.7,690.2 1142.0,686.9 1145.4,690.2 1148.8,691.2 1152.1,691.7 1155.5,673.6 1158.9,681.5 1162.2,681.9 1165.6,683.8 1168.9,699.5 1172.3,675.8 1175.7,662.9 1179.0,655.7 1182.4,653.2 1185.8,654.7 1189.1,656.6" stroke="#7e57c2" stroke-width="1.7" fill="none" stroke-linejoin="round" clip-path="url(#cr)"/>
<path d="M10 554.5H1343M10 743.5H1343M1277.5 59V771" stroke="#e0e3eb" stroke-width="1" fill="none"/>
<rect x="109" y="525.6" width="19" height="19.8" fill="#fff"/>
<text transform="translate(110.4,543.9) scale(0.92,1)" font-size="23.7" font-weight="bold" fill="#089981">H</text>
<text transform="translate(537.2,447.7) scale(0.78,1)" font-size="23.2" font-weight="bold" fill="#089981">S</text>
<g transform="translate(1189.5,541.3)"><circle r="9.7" fill="none" stroke="#9c27b0" stroke-width="1.4"/><path d="M3.2 -5.5L-4.2 0.1L-0.5 0.6L-3.5 5.7L4.3 -0.1L0.5 -0.6Z" fill="#9c27b0"/></g>
<text x="18.0" y="46.0" font-size="12" fill="#131722" font-weight="normal" stroke="#131722" stroke-width="0.25" textLength="36.9" lengthAdjust="spacingAndGlyphs">Bitcoin</text>
<text x="60.9" y="46.0" font-size="12" fill="#131722" font-weight="normal" stroke="#131722" stroke-width="0.25" textLength="4.0" lengthAdjust="spacingAndGlyphs">/</text>
<text x="69.9" y="46.0" font-size="12" fill="#131722" font-weight="normal" stroke="#131722" stroke-width="0.25" textLength="48.9" lengthAdjust="spacingAndGlyphs">TetherUS,</text>
<text x="125.7" y="46.0" font-size="12" fill="#131722" font-weight="normal" stroke="#131722" stroke-width="0.25" textLength="14.0" lengthAdjust="spacingAndGlyphs">1D,</text>
<text x="147.7" y="46.0" font-size="12" fill="#131722" font-weight="normal" stroke="#131722" stroke-width="0.25" textLength="43.9" lengthAdjust="spacingAndGlyphs">BINANCE</text>
<text x="200.1" y="46.0" font-size="12" fill="#131722" font-weight="normal" stroke="#131722" stroke-width="0.25" textLength="7.8" lengthAdjust="spacingAndGlyphs">O</text>
<text x="208.1" y="46.0" font-size="12" fill="#ef5350" font-weight="normal" stroke="#ef5350" stroke-width="0.25" textLength="47.6" lengthAdjust="spacingAndGlyphs">26559.67</text>
<text x="264.5" y="46.0" font-size="12" fill="#131722" font-weight="normal" stroke="#131722" stroke-width="0.25" textLength="7.3" lengthAdjust="spacingAndGlyphs">H</text>
<text x="272.0" y="46.0" font-size="12" fill="#ef5350" font-weight="normal" stroke="#ef5350" stroke-width="0.25" textLength="47.6" lengthAdjust="spacingAndGlyphs">26623.25</text>
<text x="328.4" y="46.0" font-size="12" fill="#131722" font-weight="normal" stroke="#131722" stroke-width="0.25" textLength="5.4" lengthAdjust="spacingAndGlyphs">L</text>
<text x="334.0" y="46.0" font-size="12" fill="#ef5350" font-weight="normal" stroke="#ef5350" stroke-width="0.25" textLength="47.0" lengthAdjust="spacingAndGlyphs">26416.16</text>
<text x="389.6" y="46.0" font-size="12" fill="#131722" font-weight="normal" stroke="#131722" stroke-width="0.25" textLength="7.0" lengthAdjust="spacingAndGlyphs">C</text>
<text x="396.8" y="46.0" font-size="12" fill="#ef5350" font-weight="normal" stroke="#ef5350" stroke-width="0.25" textLength="47.3" lengthAdjust="spacingAndGlyphs">26503.99</text>
<text x="452.9" y="46.0" font-size="12" fill="#ef5350" font-weight="normal" stroke="#ef5350" stroke-width="0.25" textLength="34.3" lengthAdjust="spacingAndGlyphs">−55.68</text>
<text x="492.8" y="46.0" font-size="12" fill="#ef5350" font-weight="normal" stroke="#ef5350" stroke-width="0.25" textLength="43.7" lengthAdjust="spacingAndGlyphs">(−0.21%)</text>
<text x="18.2" y="62.8" font-size="12" fill="#131722" font-weight="normal" stroke="#131722" stroke-width="0.25" textLength="21.9" lengthAdjust="spacingAndGlyphs">EMA</text>
<text x="44.9" y="62.8" font-size="12" fill="#131722" font-weight="normal" stroke="#131722" stroke-width="0.25" textLength="19.3" lengthAdjust="spacingAndGlyphs">(20,</text>
<text x="68.8" y="62.8" font-size="12" fill="#131722" font-weight="normal" stroke="#131722" stroke-width="0.25" textLength="29.1" lengthAdjust="spacingAndGlyphs">close,</text>
<text x="104.0" y="62.8" font-size="12" fill="#131722" font-weight="normal" stroke="#131722" stroke-width="0.25" textLength="10.3" lengthAdjust="spacingAndGlyphs">0)</text>
<text x="122.2" y="62.8" font-size="12" fill="#0c3299" font-weight="normal" stroke="#0c3299" stroke-width="0.25" textLength="46.8" lengthAdjust="spacingAndGlyphs">26303.71</text>
<text x="18.2" y="79.8" font-size="12" fill="#131722" font-weight="normal" stroke="#131722" stroke-width="0.25" textLength="15.1" lengthAdjust="spacingAndGlyphs">MA</text>
<text x="38.1" y="79.8" font-size="12" fill="#131722" font-weight="normal" stroke="#131722" stroke-width="0.25" textLength="19.3" lengthAdjust="spacingAndGlyphs">(50,</text>
<text x="62.6" y="79.8" font-size="12" fill="#131722" font-weight="normal" stroke="#131722" stroke-width="0.25" textLength="29.1" lengthAdjust="spacingAndGlyphs">close,</text>
<text x="97.4" y="79.8" font-size="12" fill="#131722" font-weight="normal" stroke="#131722" stroke-width="0.25" textLength="10.2" lengthAdjust="spacingAndGlyphs">0)</text>
<text x="115.7" y="79.8" font-size="12" fill="#f23645" font-weight="normal" stroke="#f23645" stroke-width="0.25" textLength="48.1" lengthAdjust="spacingAndGlyphs">27295.54</text>
<text x="18.4" y="574.2" font-size="12" fill="#131722" font-weight="normal" stroke="#131722" stroke-width="0.25" textLength="15.1" lengthAdjust="spacingAndGlyphs">RSI</text>
<text x="38.5" y="574.2" font-size="12" fill="#131722" font-weight="normal" stroke="#131722" stroke-width="0.25" textLength="19.6" lengthAdjust="spacingAndGlyphs">(14,</text>
<text x="63.1" y="574.2" font-size="12" fill="#131722" font-weight="normal" stroke="#131722" stroke-width="0.25" textLength="30.8" lengthAdjust="spacingAndGlyphs">close)</text>
<text x="102.3" y="574.2" font-size="12" fill="#7e57c2" font-weight="normal" stroke="#7e57c2" stroke-width="0.25" textLength="28.5" lengthAdjust="spacingAndGlyphs">50.55</text>
<rect x="1280.5" y="30.5" width="58" height="25" rx="4" fill="#fff" stroke="#e4e6ed" stroke-width="1.3"/>
<text x="1290.2" y="48.0" font-size="12" fill="#131722" font-weight="normal" stroke="#131722" stroke-width="0.25" textLength="27.4" lengthAdjust="spacingAndGlyphs">USDT</text>
<text x="1285.2" y="515.6" font-size="12" fill="#131722" font-weight="normal" stroke="#131722" stroke-width="0.25" textLength="48.2" lengthAdjust="spacingAndGlyphs">16000.00</text>
<text x="1285.2" y="457.6" font-size="12" fill="#131722" font-weight="normal" stroke="#131722" stroke-width="0.25" textLength="48.2" lengthAdjust="spacingAndGlyphs">18000.00</text>
<text x="1285.2" y="399.7" font-size="12" fill="#131722" font-weight="normal" stroke="#131722" stroke-width="0.25" textLength="48.2" lengthAdjust="spacingAndGlyphs">20000.00</text>
<text x="1285.2" y="341.8" font-size="12" fill="#131722" font-weight="normal" stroke="#131722" stroke-width="0.25" textLength="48.2" lengthAdjust="spacingAndGlyphs">22000.00</text>
<text x="1285.2" y="283.8" font-size="12" fill="#131722" font-weight="normal" stroke="#131722" stroke-width="0.25" textLength="48.2" lengthAdjust="spacingAndGlyphs">24000.00</text>
<text x="1285.2" y="110.0" font-size="12" fill="#131722" font-weight="normal" stroke="#131722" stroke-width="0.25" textLength="48.2" lengthAdjust="spacingAndGlyphs">30000.00</text>
<text x="1285.3" y="733.5" font-size="12" fill="#131722" font-weight="normal" stroke="#131722" stroke-width="0.25" textLength="28.9" lengthAdjust="spacingAndGlyphs">20.00</text>
<text x="1285.3" y="686.0" font-size="12" fill="#131722" font-weight="normal" stroke="#131722" stroke-width="0.25" textLength="28.9" lengthAdjust="spacingAndGlyphs">40.00</text>
<text x="1285.3" y="638.4" font-size="12" fill="#131722" font-weight="normal" stroke="#131722" stroke-width="0.25" textLength="28.9" lengthAdjust="spacingAndGlyphs">60.00</text>
<text x="1285.3" y="590.9" font-size="12" fill="#131722" font-weight="normal" stroke="#131722" stroke-width="0.25" textLength="28.9" lengthAdjust="spacingAndGlyphs">80.00</text>
<text x="102.5" y="761.4" font-size="12" fill="#131722" font-weight="normal" stroke="#131722" stroke-width="0.25" textLength="20.0" lengthAdjust="spacingAndGlyphs">Nov</text>
<text x="203.6" y="761.4" font-size="12" fill="#131722" font-weight="normal" stroke="#131722" stroke-width="0.25" textLength="19.4" lengthAdjust="spacingAndGlyphs">Dec</text>
<text x="304.2" y="761.4" font-size="12" fill="#131722" font-weight="bold" textLength="27.4" lengthAdjust="spacingAndGlyphs">2023</text>
<text x="412.5" y="761.4" font-size="12" fill="#131722" font-weight="normal" stroke="#131722" stroke-width="0.25" textLength="18.9" lengthAdjust="spacingAndGlyphs">Feb</text>
<text x="506.0" y="761.4" font-size="12" fill="#131722" font-weight="normal" stroke="#131722" stroke-width="0.25" textLength="19.1" lengthAdjust="spacingAndGlyphs">Mar</text>
<text x="611.0" y="761.4" font-size="12" fill="#131722" font-weight="normal" stroke="#131722" stroke-width="0.25" textLength="18.2" lengthAdjust="spacingAndGlyphs">Apr</text>
<text x="710.9" y="761.4" font-size="12" fill="#131722" font-weight="normal" stroke="#131722" stroke-width="0.25" textLength="20.7" lengthAdjust="spacingAndGlyphs">May</text>
<text x="816.5" y="761.4" font-size="12" fill="#131722" font-weight="normal" stroke="#131722" stroke-width="0.25" textLength="18.6" lengthAdjust="spacingAndGlyphs">Jun</text>
<text x="918.6" y="761.4" font-size="12" fill="#131722" font-weight="normal" stroke="#131722" stroke-width="0.25" textLength="15.4" lengthAdjust="spacingAndGlyphs">Jul</text>
<text x="1021.0" y="761.4" font-size="12" fill="#131722" font-weight="normal" stroke="#131722" stroke-width="0.25" textLength="19.2" lengthAdjust="spacingAndGlyphs">Aug</text>
<text x="1125.4" y="761.4" font-size="12" fill="#131722" font-weight="normal" stroke="#131722" stroke-width="0.25" textLength="18.6" lengthAdjust="spacingAndGlyphs">Sep</text>
<text x="1226.5" y="761.4" font-size="12" fill="#131722" font-weight="normal" stroke="#131722" stroke-width="0.25" textLength="18.6" lengthAdjust="spacingAndGlyphs">Oct</text>
<path d="M1277 69H1337a2 2 0 0 1 2 2V84a2 2 0 0 1 -2 2H1277Z" fill="#0000ff"/>
<text x="1285.2" y="81.7" font-size="12" fill="#fff" font-weight="normal" stroke="#fff" stroke-width="0.6" textLength="48.4" lengthAdjust="spacingAndGlyphs">31000.00</text>
<path d="M1277 151.2H1337a2 2 0 0 1 2 2V166a2 2 0 0 1 -2 2H1277Z" fill="#0000ff"/>
<text x="1285.2" y="163.9" font-size="12" fill="#fff" font-weight="normal" stroke="#fff" stroke-width="0.6" textLength="48.4" lengthAdjust="spacingAndGlyphs">28143.00</text>
<path d="M1277 176.3H1337a2 2 0 0 1 2 2V190.6a2 2 0 0 1 -2 2H1277Z" fill="#f23645"/>
<path d="M1253.2 176.3H1276V192.6H1253.2a2 2 0 0 1 -2 -2V178.3a2 2 0 0 1 2 -2Z" fill="#f23645"/>
<text x="1285.2" y="188.7" font-size="12" fill="#fff" font-weight="normal" stroke="#fff" stroke-width="0.6" textLength="48.4" lengthAdjust="spacingAndGlyphs">27295.54</text>
<text x="1255.2" y="188.7" font-size="12" fill="#fff" font-weight="normal" stroke="#fff" stroke-width="0.6" textLength="16.0" lengthAdjust="spacingAndGlyphs">MA</text>
<path d="M1277 199.3H1337a2 2 0 0 1 2 2V242a2 2 0 0 1 -2 2H1277Z" fill="#ef5350"/>
<path d="M1220.2 199.3H1276V215.7H1220.2a2 2 0 0 1 -2 -2V201.3a2 2 0 0 1 2 -2Z" fill="#ef5350"/>
<text x="1222.8" y="211.8" font-size="12" fill="#fff" font-weight="normal" stroke="#fff" stroke-width="0.6" textLength="48.5" lengthAdjust="spacingAndGlyphs">BTCUSDT</text>
<text x="1285.2" y="211.8" font-size="12" fill="#fff" font-weight="normal" stroke="#fff" stroke-width="0.6" textLength="48.4" lengthAdjust="spacingAndGlyphs">26503.99</text>
<text x="1285.2" y="225.8" font-size="12" fill="#fff" font-weight="normal" stroke="#fff" stroke-width="0.6" textLength="43.5" lengthAdjust="spacingAndGlyphs">+37.24%</text>
<text x="1285.2" y="239.8" font-size="12" fill="#fff" font-weight="normal" stroke="#fff" stroke-width="0.25" textLength="46.0" lengthAdjust="spacingAndGlyphs" fill-opacity="0.75">07:16:10</text>
<path d="M1277 244H1337a2 2 0 0 1 2 2V259a2 2 0 0 1 -2 2H1277Z" fill="#0c3299"/>
<path d="M1246.2 244H1276V261H1246.2a2 2 0 0 1 -2 -2V246a2 2 0 0 1 2 -2Z" fill="#0c3299"/>
<text x="1285.2" y="256.6" font-size="12" fill="#fff" font-weight="normal" stroke="#fff" stroke-width="0.6" textLength="48.4" lengthAdjust="spacingAndGlyphs">26303.71</text>
<text x="1249.5" y="256.6" font-size="12" fill="#fff" font-weight="normal" stroke="#fff" stroke-width="0.6" textLength="22.0" lengthAdjust="spacingAndGlyphs">EMA</text>
<path d="M1277 261.4H1337a2 2 0 0 1 2 2V276a2 2 0 0 1 -2 2H1277Z" fill="#0000ff"/>
<text x="1285.2" y="273.7" font-size="12" fill="#fff" font-weight="normal" stroke="#fff" stroke-width="0.6" textLength="48.4" lengthAdjust="spacingAndGlyphs">24800.00</text>
<path d="M1277 649.2H1318a2 2 0 0 1 2 2V663.5a2 2 0 0 1 -2 2H1277Z" fill="#7e57c2"/>
<path d="M1252 649.2H1276V665.5H1252a2 2 0 0 1 -2 -2V651.2a2 2 0 0 1 2 -2Z" fill="#7e57c2"/>
<text x="1255.6" y="661.6" font-size="12" fill="#fff" font-weight="normal" stroke="#fff" stroke-width="0.6" textLength="15.2" lengthAdjust="spacingAndGlyphs">RSI</text>
<text x="1285.3" y="661.6" font-size="12" fill="#fff" font-weight="normal" stroke="#fff" stroke-width="0.6" textLength="28.9" lengthAdjust="spacingAndGlyphs">50.55</text>
<g fill="#1e222d"><path d="M9.9 783.1H18.2V792.6H13.7V787.3H9.9Z"/><circle cx="21.1" cy="785.1" r="1.9"/><path d="M25.3 783.1H29.9L25.8 792.6H21Z"/></g>
<text x="33.3" y="792.6" font-size="12" fill="#1e222d" font-weight="normal" stroke="#1e222d" stroke-width="0.25" textLength="70.0" lengthAdjust="spacingAndGlyphs">TradingView</text>
</svg>
</body></html>
